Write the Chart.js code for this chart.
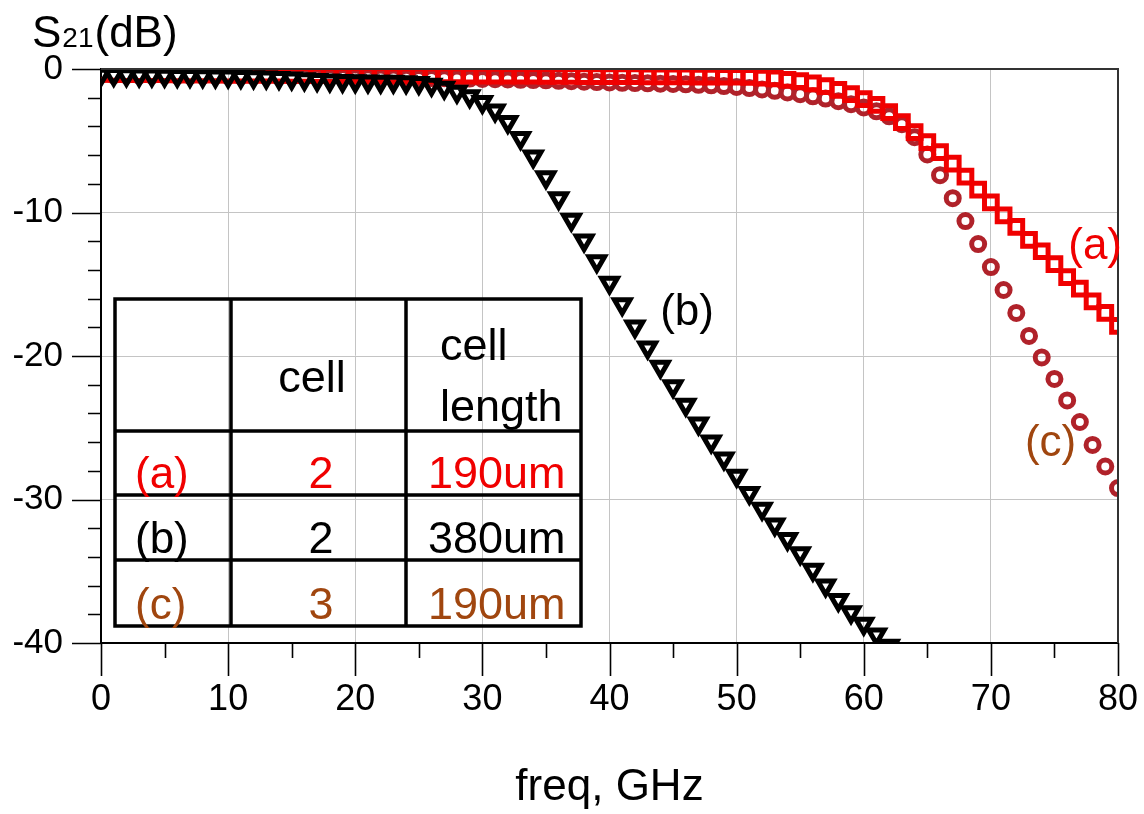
<!DOCTYPE html>
<html>
<head>
<meta charset="utf-8">
<title>S21 vs freq</title>
<script src="https://cdn.jsdelivr.net/npm/chart.js@4.4.1/dist/chart.umd.min.js"></script>
<style>
  html, body { margin: 0; padding: 0; background: #fff; }
  #chart { display: block; }
</style>
</head>
<body>
<canvas id="chart" width="1144" height="814"></canvas>
<script>
  // frequency sweep, GHz
  const freq = [
    0, 1, 2, 3, 4, 5, 6, 7, 8, 9, 10, 11, 12, 13, 14, 15, 16, 17, 18, 19, 20,
    21, 22, 23, 24, 25, 26, 27, 28, 29, 30, 31, 32, 33, 34, 35, 36, 37, 38, 39, 40,
    41, 42, 43, 44, 45, 46, 47, 48, 49, 50, 51, 52, 53, 54, 55, 56, 57, 58, 59, 60,
    61, 62, 63, 64, 65, 66, 67, 68, 69, 70, 71, 72, 73, 74, 75, 76, 77, 78, 79, 80
  ];

  // (a) 2 cells, 190um
  const s21A = [
    -0.33, -0.34, -0.35, -0.35, -0.36, -0.36, -0.37, -0.37, -0.38, -0.38, -0.39,
    -0.39, -0.40, -0.40, -0.40, -0.41, -0.41, -0.42, -0.42, -0.42, -0.43,
    -0.43, -0.43, -0.44, -0.44, -0.44, -0.45, -0.45, -0.45, -0.46, -0.46,
    -0.46, -0.47, -0.47, -0.47, -0.48, -0.48, -0.48, -0.49, -0.49, -0.50,
    -0.50, -0.50, -0.51, -0.51, -0.52, -0.52, -0.53, -0.53, -0.54, -0.54,
    -0.55, -0.60, -0.65, -0.75, -0.85, -1.00, -1.20, -1.45, -1.75, -2.10,
    -2.50, -3.00, -3.70, -4.40, -5.10, -5.80, -6.60, -7.50, -8.40, -9.30,
    -10.2, -11.0, -11.9, -12.7, -13.6, -14.5, -15.3, -16.2, -17.0, -17.9
  ];

  // (b) 2 cells, 380um (leaves the plot at about 62 GHz)
  const s21B = [
    -0.40, -0.42, -0.44, -0.45, -0.46, -0.47, -0.48, -0.49, -0.50, -0.52, -0.53,
    -0.55, -0.57, -0.60, -0.63, -0.67, -0.72, -0.77, -0.81, -0.84, -0.86,
    -0.87, -0.88, -0.89, -0.92, -0.98, -1.10, -1.30, -1.58, -1.90, -2.30,
    -2.90, -3.70, -4.80, -6.10, -7.55, -9.00, -10.5, -11.95, -13.4, -14.9,
    -16.4, -17.95, -19.4, -20.75, -22.1, -23.4, -24.7, -25.95, -27.15, -28.35,
    -29.55, -30.65, -31.75, -32.75, -33.75, -34.9, -36.0, -37.0, -37.85, -38.65,
    -39.4, -40.2
  ];

  // (c) 3 cells, 190um
  const s21C = [
    -0.40, -0.42, -0.43, -0.44, -0.45, -0.45, -0.46, -0.46, -0.47, -0.47, -0.48,
    -0.49, -0.49, -0.50, -0.51, -0.52, -0.53, -0.54, -0.55, -0.56, -0.57,
    -0.58, -0.59, -0.60, -0.61, -0.62, -0.63, -0.64, -0.66, -0.67, -0.69,
    -0.71, -0.73, -0.75, -0.77, -0.79, -0.82, -0.85, -0.88, -0.91, -0.94,
    -0.96, -0.98, -1.00, -1.02, -1.04, -1.07, -1.10, -1.14, -1.19, -1.25,
    -1.33, -1.42, -1.52, -1.63, -1.76, -1.90, -2.06, -2.24, -2.45, -2.68,
    -2.95, -3.30, -3.85, -4.75, -5.95, -7.40, -9.00, -10.6, -12.2, -13.8,
    -15.4, -17.0, -18.6, -20.1, -21.6, -23.1, -24.6, -26.2, -27.7, -29.2
  ];

  const xMajor = [0, 10, 20, 30, 40, 50, 60, 70, 80];
  const yMajor = [0, -10, -20, -30, -40];

  // inset table
  const tableHead = ['', 'cell', 'cell length'];
  const tableRows = [
    ['(a)', '2', '190um'],
    ['(b)', '2', '380um'],
    ['(c)', '3', '190um']
  ];

  const RED = '#f00000';
  const DARKRED = '#b0222a';
  const BROWN = '#a0460f';
  const rowColors = [RED, '#000000', BROWN];
  const FONT = "'Liberation Sans', Arial, Helvetica, sans-serif";

  function toPoints(values) {
    return values.map((v, i) => ({ x: freq[i], y: v }));
  }

  const overlay = {
    id: 'overlay',
    afterDraw(chart) {
      const { ctx, chartArea: area } = chart;
      const xs = chart.scales.x;
      const ys = chart.scales.y;
      ctx.save();

      // top / right frame
      ctx.strokeStyle = '#333';
      ctx.lineWidth = 2;
      ctx.beginPath();
      ctx.moveTo(area.left, area.top);
      ctx.lineTo(area.right, area.top);
      ctx.lineTo(area.right, area.bottom);
      ctx.stroke();

      // tick marks outside the axes
      ctx.strokeStyle = '#000';
      ctx.lineWidth = 1.6;
      ctx.beginPath();
      xs.ticks.forEach(t => {
        const px = Math.round(xs.getPixelForValue(t.value)) + 0.5;
        const len = xMajor.includes(t.value) ? 33 : 15;
        ctx.moveTo(px, area.bottom);
        ctx.lineTo(px, area.bottom + len);
      });
      ys.ticks.forEach(t => {
        const py = Math.round(ys.getPixelForValue(t.value)) + 0.5;
        const len = yMajor.includes(t.value) ? 29 : 13;
        ctx.moveTo(area.left, py);
        ctx.lineTo(area.left - len, py);
      });
      ctx.stroke();

      // axis titles
      ctx.fillStyle = '#000';
      ctx.textBaseline = 'alphabetic';
      ctx.textAlign = 'left';
      let tx = 32;
      ctx.font = '44px ' + FONT;
      ctx.fillText('S', tx, 47);
      tx += ctx.measureText('S').width + 1;
      ctx.font = '28px ' + FONT;
      ctx.fillText('21', tx, 47);
      tx += ctx.measureText('21').width + 1;
      ctx.font = '44px ' + FONT;
      ctx.fillText('(dB)', tx, 47);

      ctx.textAlign = 'center';
      ctx.fillText('freq, GHz', (area.left + area.right) / 2, 800);

      // curve labels
      ctx.font = '44px ' + FONT;
      ctx.textBaseline = 'middle';
      ctx.fillStyle = RED;
      ctx.fillText('(a)', xs.getPixelForValue(78.2), ys.getPixelForValue(-12.4));
      ctx.fillStyle = '#000';
      ctx.fillText('(b)', xs.getPixelForValue(46.1), ys.getPixelForValue(-17.0));
      ctx.fillStyle = BROWN;
      ctx.fillText('(c)', xs.getPixelForValue(74.7), ys.getPixelForValue(-26.1));

      // table
      const colX = [115, 231, 406, 581];
      const rowY = [299, 431, 495, 560, 626];
      ctx.strokeStyle = '#000';
      ctx.lineWidth = 3.5;
      ctx.beginPath();
      colX.forEach(cx => { ctx.moveTo(cx, rowY[0]); ctx.lineTo(cx, rowY[rowY.length - 1]); });
      rowY.forEach(ry => { ctx.moveTo(colX[0] - 1.75, ry); ctx.lineTo(colX[colX.length - 1] + 1.75, ry); });
      ctx.stroke();

      ctx.textBaseline = 'alphabetic';
      ctx.font = '45px ' + FONT;
      ctx.fillStyle = '#000';
      ctx.textAlign = 'center';
      ctx.fillText(tableHead[1], 312, 392);
      ctx.textAlign = 'left';
      const headWords = tableHead[2].split(' ');
      ctx.fillText(headWords[0], 440, 360);
      ctx.fillText(headWords[1], 440, 421);

      tableRows.forEach((row, i) => {
        const base = rowY[i + 2] - 7;
        ctx.fillStyle = rowColors[i];
        ctx.font = '44px ' + FONT;
        ctx.textAlign = 'left';
        ctx.fillText(row[0], 135, base);
        ctx.font = '45px ' + FONT;
        ctx.textAlign = 'center';
        ctx.fillText(row[1], 321, base);
        ctx.textAlign = 'left';
        ctx.fillText(row[2], 428, base);
      });

      ctx.restore();
    }
  };

  new Chart(document.getElementById('chart'), {
    type: 'scatter',
    data: {
      datasets: [
        {
          label: '(b)',
          data: toPoints(s21B),
          showLine: false,
          pointStyle: 'triangle',
          pointRotation: 180,
          pointRadius: 9,
          pointBorderWidth: 5,
          pointBorderColor: '#000',
          pointBackgroundColor: 'rgba(0,0,0,0)',
          clip: 0
        },
        {
          label: '(a)',
          data: toPoints(s21A),
          showLine: false,
          pointStyle: 'rect',
          pointRadius: 9,
          pointBorderWidth: 5,
          pointBorderColor: RED,
          pointBackgroundColor: 'rgba(0,0,0,0)',
          clip: 0
        },
        {
          label: '(c)',
          data: toPoints(s21C),
          showLine: false,
          pointStyle: 'circle',
          pointRadius: 6.5,
          pointBorderWidth: 5,
          pointBorderColor: DARKRED,
          pointBackgroundColor: 'rgba(0,0,0,0)',
          clip: 0
        }
      ]
    },
    options: {
      responsive: false,
      animation: false,
      devicePixelRatio: 1,
      events: [],
      layout: { padding: { top: 69, right: 26, bottom: 0, left: 0 } },
      plugins: {
        legend: { display: false },
        tooltip: { enabled: false }
      },
      scales: {
        x: {
          type: 'linear',
          min: 0,
          max: 80,
          afterFit: s => { s.height = 171; s.paddingLeft = 20; s.paddingRight = 20; },
          border: { color: '#000', width: 2 },
          grid: {
            drawTicks: false,
            lineWidth: 1,
            color: c => (c.tick && xMajor.includes(c.tick.value)) ? '#c4c4c4' : 'rgba(0,0,0,0)'
          },
          ticks: {
            stepSize: 5,
            autoSkip: false,
            maxRotation: 0,
            padding: 35,
            color: '#000',
            font: { family: FONT, size: 36 },
            callback: v => xMajor.includes(v) ? String(v) : ''
          }
        },
        y: {
          type: 'linear',
          min: -40,
          max: 0,
          afterFit: s => { s.width = 101; s.paddingTop = 20; s.paddingBottom = 20; },
          border: { color: '#000', width: 2 },
          grid: {
            drawTicks: false,
            lineWidth: 1,
            color: c => (c.tick && yMajor.includes(c.tick.value)) ? '#c4c4c4' : 'rgba(0,0,0,0)'
          },
          ticks: {
            stepSize: 2,
            autoSkip: false,
            padding: 38,
            color: '#000',
            font: { family: FONT, size: 35 },
            callback: v => yMajor.includes(v) ? String(v) : ''
          }
        }
      }
    },
    plugins: [overlay]
  });
</script>
</body>
</html>
